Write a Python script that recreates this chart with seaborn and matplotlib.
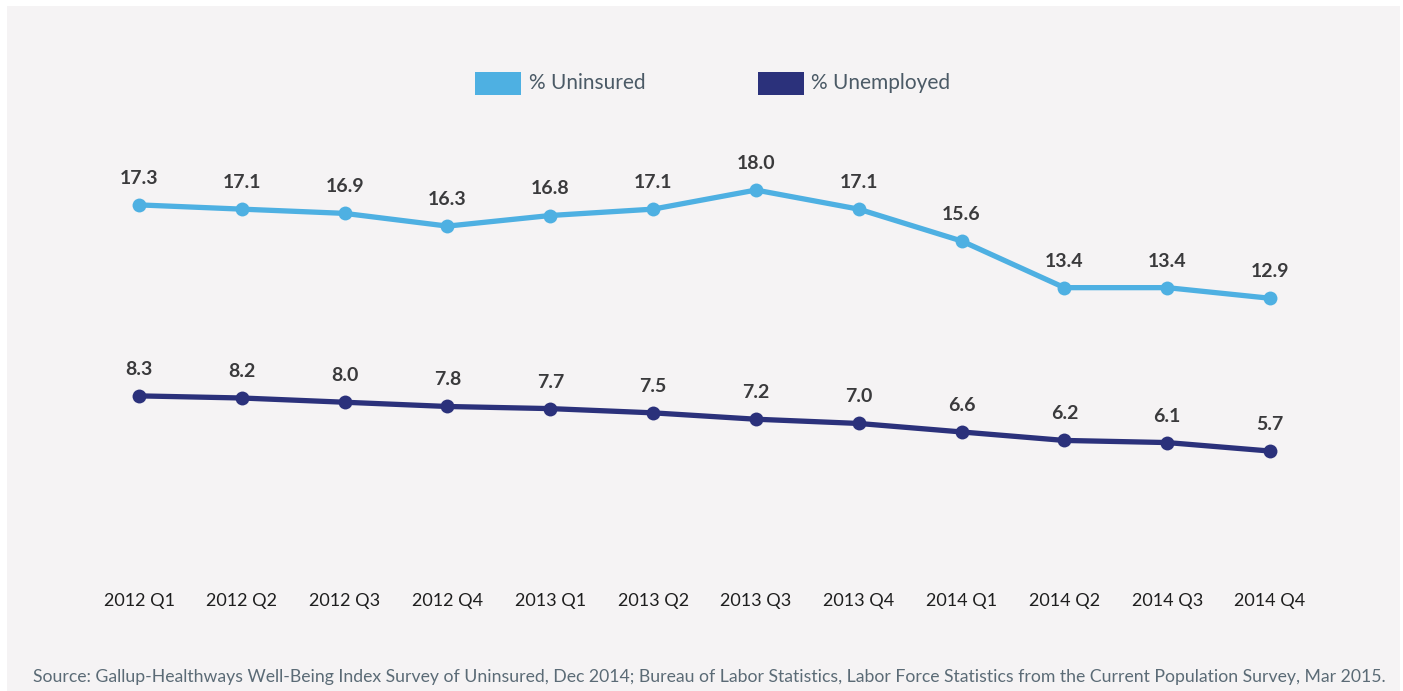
import matplotlib
matplotlib.use("Agg")
import matplotlib.pyplot as plt
import seaborn as sns
import pandas as pd
from matplotlib.patches import Rectangle

quarters = ["2012 Q1", "2012 Q2", "2012 Q3", "2012 Q4", "2013 Q1", "2013 Q2",
            "2013 Q3", "2013 Q4", "2014 Q1", "2014 Q2", "2014 Q3", "2014 Q4"]
uninsured = [17.3, 17.1, 16.9, 16.3, 16.8, 17.1, 18.0, 17.1, 15.6, 13.4, 13.4, 12.9]
unemployed = [8.3, 8.2, 8.0, 7.8, 7.7, 7.5, 7.2, 7.0, 6.6, 6.2, 6.1, 5.7]
series_names = ["% Uninsured", "% Unemployed"]
colors = ["#4eb0e2", "#2b317b"]
source = ("Source: Gallup-Healthways Well-Being Index Survey of Uninsured, Dec 2014; "
          "Bureau of Labor Statistics, Labor Force Statistics from the Current Population Survey, Mar 2015.")

sns.set_theme(style="white")
plt.rcParams["font.family"] = ["Lato", "DejaVu Sans"]

W, H = 1403, 691
fig = plt.figure(figsize=(W / 100, H / 100), dpi=100)
fig.patch.set_facecolor("white")
fig.add_artist(Rectangle((7 / W, 0), (1400 - 7) / W, (691 - 6) / H,
                         transform=fig.transFigure, facecolor="#f5f3f4",
                         edgecolor="none", zorder=0))

# axes: x index -0.5..11.5 -> px 87.6..1321.4 ; y 0..20 -> px 572..147.6
left, right = 87.6, 1321.4
bottom_px, top_px = 572, 147.6
ax = fig.add_axes([left / W, 1 - bottom_px / H, (right - left) / W, (bottom_px - top_px) / H])
ax.set_facecolor("none")

df = pd.DataFrame({"quarter_idx": list(range(len(quarters))) * 2,
                   "value": uninsured + unemployed,
                   "series": [series_names[0]] * len(quarters) + [series_names[1]] * len(quarters)})

sns.lineplot(data=df, x="quarter_idx", y="value", hue="series",
             palette=dict(zip(series_names, colors)), marker="o",
             markersize=10, markeredgewidth=0, linewidth=3.8, ax=ax, legend=False)

for vals in (uninsured, unemployed):
    for i, v in enumerate(vals):
        ax.annotate(f"{v:.1f}", (i, v), xytext=(0, 13), textcoords="offset points",
                    ha="center", va="bottom", fontsize=14, fontweight="bold",
                    color="#3a3a3c")

ax.set_xlim(-0.5, len(quarters) - 0.5)
ax.set_ylim(0, 20)
ax.set_xticks(range(len(quarters)))
ax.set_xticklabels(quarters, fontsize=13, color="#1e1e1e")
ax.tick_params(axis="x", length=0, pad=15)
ax.set_yticks([])
ax.set_xlabel("")
ax.set_ylabel("")
for s in ax.spines.values():
    s.set_visible(False)

# legend
leg_y = 1 - 83 / H
for (x0, tx), name, c in zip([(475, 529), (758, 811)], series_names, colors):
    fig.add_artist(Rectangle((x0 / W, 1 - 95 / H), 46 / W, 23 / H,
                             transform=fig.transFigure, facecolor=c, edgecolor="none"))
    fig.text(tx / W, leg_y, name, ha="left", va="center", fontsize=15, color="#4b5a66")

fig.text(709 / W, 1 - 677 / H, source, ha="center", va="center", fontsize=12.7, color="#5b6b76")

fig.savefig("out.png", dpi=100, facecolor="white")
